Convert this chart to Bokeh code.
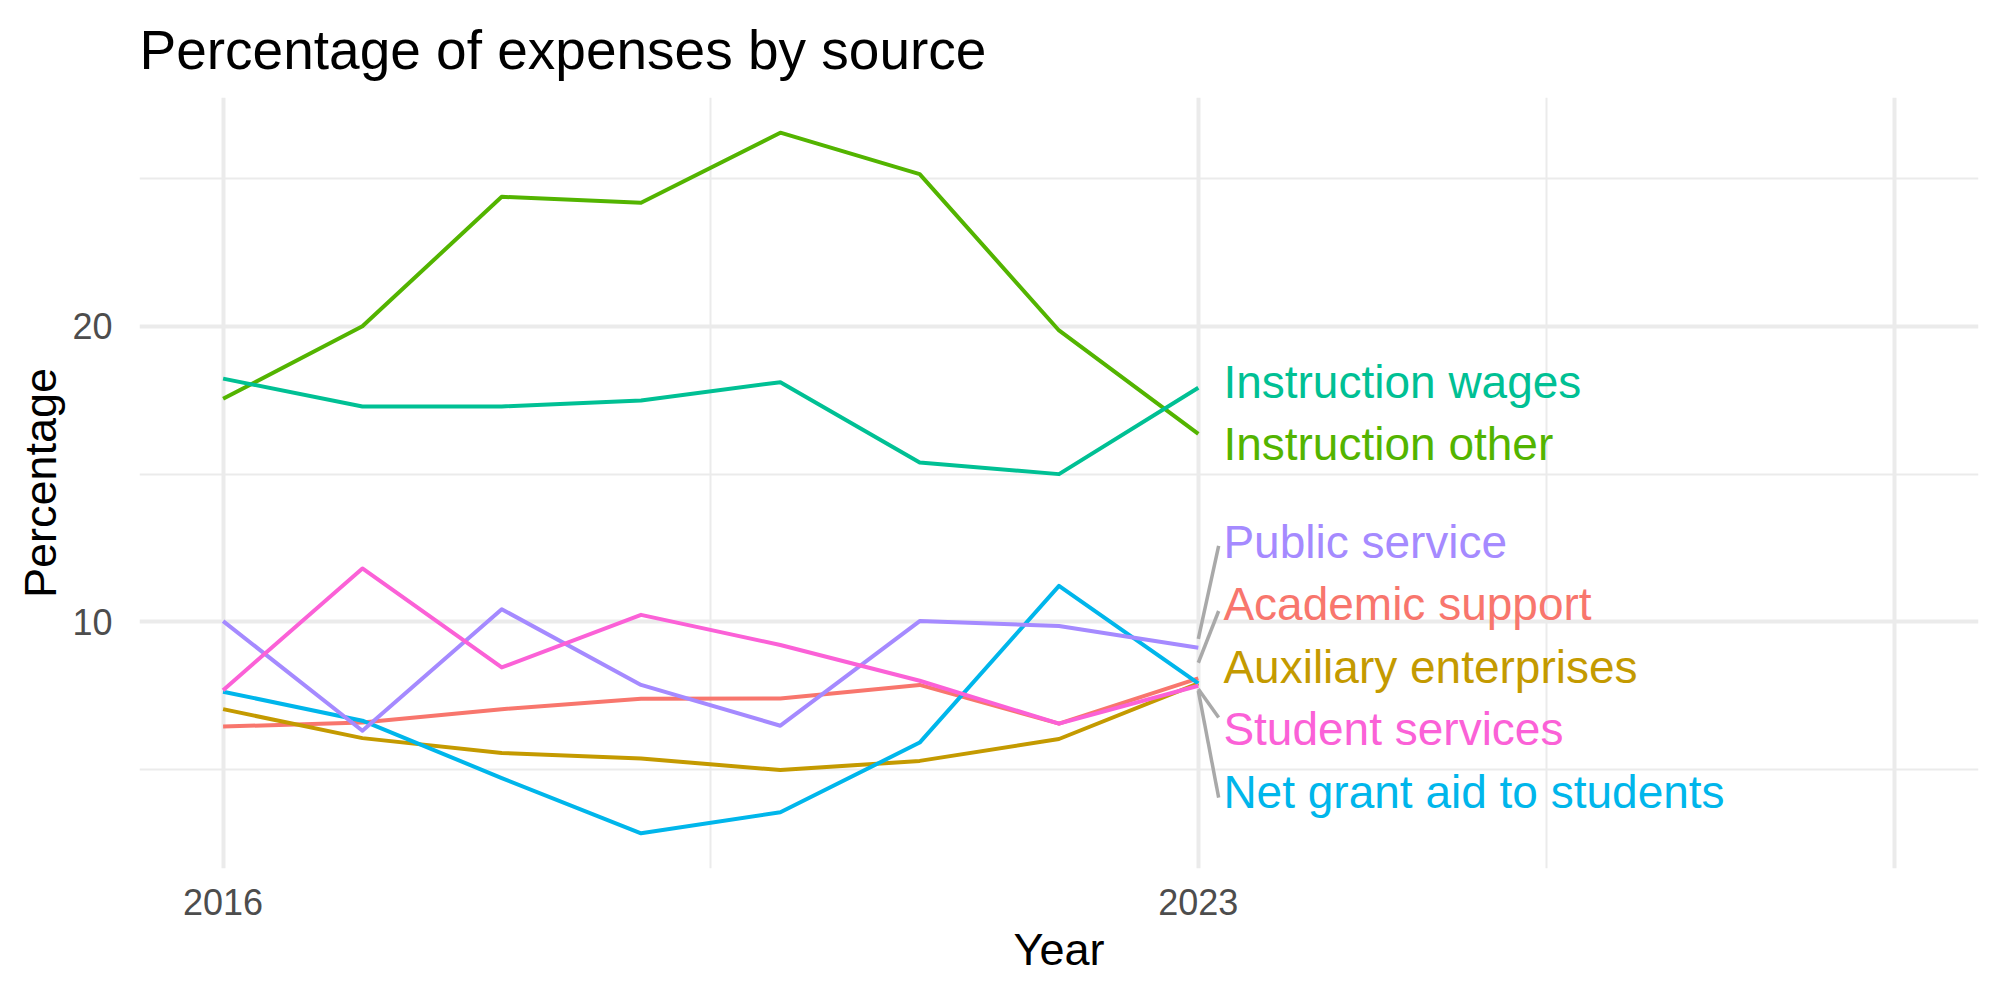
from bokeh.plotting import figure
from bokeh.models import Range1d, FixedTicker, ColumnDataSource
from bokeh.core.properties import value
from bokeh.embed import file_html
from bokeh.resources import INLINE

# ---------------- data ----------------
years = [2016, 2017, 2018, 2019, 2020, 2021, 2022, 2023]

academic_support      = [6.46, 6.60, 7.05, 7.40, 7.41, 7.87, 6.56, 8.09]
auxiliary_enterprises = [7.05, 6.07, 5.57, 5.38, 4.99, 5.30, 6.04, 7.92]
instruction_other     = [17.55, 20.00, 24.38, 24.18, 26.55, 25.15, 19.86, 16.36]
instruction_wages     = [18.23, 17.29, 17.29, 17.49, 18.11, 15.39, 15.00, 17.92]
net_grant_aid         = [7.64, 6.66, 4.72, 2.85, 3.56, 5.92, 11.22, 7.92]
public_service        = [10.03, 6.32, 10.43, 7.87, 6.49, 10.03, 9.86, 9.13]
student_services      = [7.69, 11.81, 8.46, 10.24, 9.22, 8.01, 6.56, 7.84]

series_names = ["Academic support", "Auxiliary enterprises", "Instruction other",
                "Instruction wages", "Net grant aid to students", "Public service",
                "Student services"]
series_values = [academic_support, auxiliary_enterprises, instruction_other,
                 instruction_wages, net_grant_aid, public_service, student_services]
series_colors = ["#F8766D", "#C49A00", "#53B400", "#00C094", "#00B6EB", "#A58AFF", "#FB61D7"]

x_tick_labels = [2016, 2023]
y_tick_labels = [10, 20]

# repelled label layout (positions, in data units)
label_order = ["Instruction wages", "Instruction other", "Public service",
               "Academic support", "Auxiliary enterprises", "Student services",
               "Net grant aid to students"]
label_y = [18.13, 16.03, 12.71, 10.61, 8.47, 6.37, 4.24]
label_x = 2023.18
seg_names = ["Public service", "Academic support", "Student services", "Net grant aid to students"]
seg_y0 = [9.43, 8.62, 7.73, 7.67]
seg_y1 = [12.57, 10.37, 6.77, 4.06]

# ---------------- figure ----------------
FONT = "Liberation Sans"
p = figure(width=2000, height=1000, output_backend="svg", toolbar_location=None,
           x_range=Range1d(2015.4, 2028.6), y_range=Range1d(1.66, 27.74),
           min_border_left=139, min_border_right=22, min_border_top=97, min_border_bottom=132)
p.background_fill_color = "white"
p.border_fill_color = "white"
p.outline_line_color = None

p.title.text = "Percentage of expenses by source"
p.title.text_font = FONT
p.title.text_font_size = "55px"
p.title.text_font_style = "normal"
p.title.text_color = "black"
p.title.align = "left"
p.title.standoff = 33

# axes
for ax in (p.xaxis, p.yaxis):
    ax.axis_line_color = None
    ax.major_tick_line_color = None
    ax.minor_tick_line_color = None
    ax.major_label_text_font = FONT
    ax.major_label_text_font_size = "36px"
    ax.major_label_text_color = "#4D4D4D"
    ax.axis_label_text_font = FONT
    ax.axis_label_text_font_size = "45px"
    ax.axis_label_text_font_style = "normal"
    ax.axis_label_text_color = "black"

p.xaxis.axis_label = "Year"
p.yaxis.axis_label = "Percentage"
p.xaxis.ticker = FixedTicker(ticks=x_tick_labels, minor_ticks=[])
p.yaxis.ticker = FixedTicker(ticks=y_tick_labels, minor_ticks=[5, 15, 25])
p.xaxis.major_label_standoff = 14
p.xaxis.axis_label_standoff = 6
p.yaxis.major_label_standoff = 21
p.yaxis.axis_label_standoff = 3

# grids
p.xgrid.ticker = FixedTicker(ticks=[2016, 2023, 2028], minor_ticks=[2019.5, 2025.5])
p.ygrid.ticker = FixedTicker(ticks=[10, 20], minor_ticks=[5, 15, 25])
for g in (p.xgrid, p.ygrid):
    g.grid_line_color = "#EBEBEB"
    g.grid_line_width = 4
    g.minor_grid_line_color = "#EBEBEB"
    g.minor_grid_line_width = 2

# lines
for name, vals, col in zip(series_names, series_values, series_colors):
    src = ColumnDataSource(dict(x=years, y=vals))
    p.line("x", "y", source=src, line_color=col, line_width=4, line_join="round")

# label segments
seg_src = ColumnDataSource(dict(x0=[2023.0] * len(seg_names), y0=seg_y0,
                                x1=[2023.146] * len(seg_names), y1=seg_y1))
p.segment("x0", "y0", "x1", "y1", source=seg_src, line_color="#A9A9A9", line_width=3.5)

# labels
color_of = dict(zip(series_names, series_colors))
lab_src = ColumnDataSource(dict(x=[label_x] * len(label_order), y=label_y, text=label_order,
                                color=[color_of[n] for n in label_order]))
p.text("x", "y", text="text", source=lab_src, text_color="color",
       text_font=value(FONT), text_font_size="46px",
       text_align="left", text_baseline="alphabetic")

open("out.html", "w").write(file_html(p, INLINE))
